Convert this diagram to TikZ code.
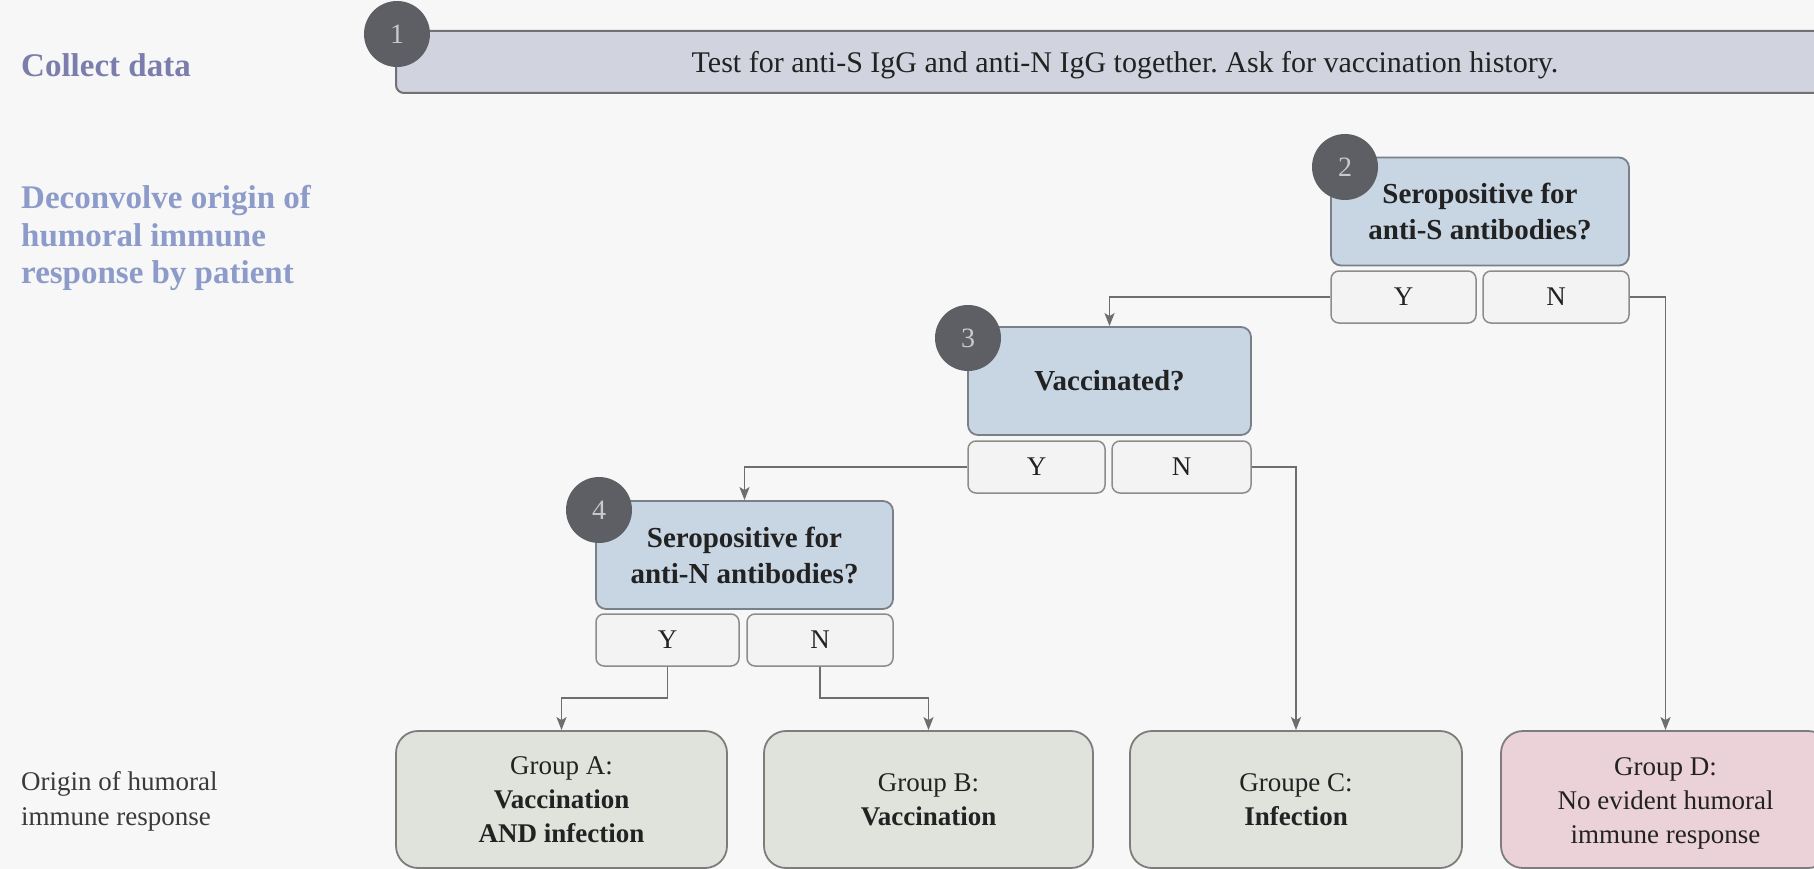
\documentclass[tikz,border=0pt]{standalone}
\usepackage{fontspec}
\setmainfont{Liberation Serif}
\usetikzlibrary{arrows.meta}
\definecolor{bg}{HTML}{F7F7F7}
\definecolor{lblA}{HTML}{7B7EAC}
\definecolor{lblB}{HTML}{8C9BC9}
\definecolor{lblC}{HTML}{3A3A3A}
\definecolor{topfill}{HTML}{D1D3DE}
\definecolor{topborder}{HTML}{707176}
\definecolor{qfill}{HTML}{C8D5E3}
\definecolor{qborder}{HTML}{7A808A}
\definecolor{ynfill}{HTML}{F3F3F3}
\definecolor{ynborder}{HTML}{8C8C8C}
\definecolor{gfill}{HTML}{DFE3DB}
\definecolor{gborder}{HTML}{7D7D7D}
\definecolor{dfill}{HTML}{EBD2D9}
\definecolor{numfill}{HTML}{5E5F64}
\definecolor{numtext}{HTML}{C9C9CC}
\definecolor{linec}{HTML}{6E6E6E}
\definecolor{txt}{HTML}{222222}
\frenchspacing
\begin{document}
\begin{tikzpicture}[x=1pt,y=-1pt,
  topbox/.style={draw=topborder, fill=topfill, rounded corners=8pt, line width=2pt, minimum width=1444pt, minimum height=62pt, inner sep=0pt},
  toptext/.style={text=txt, inner sep=0pt, font=\fontsize{30}{34}\selectfont},
  qbox/.style={draw=qborder, fill=qfill, rounded corners=10pt, line width=1.8pt, minimum height=108pt, inner sep=0pt, align=center, text=txt, font=\fontsize{29}{36}\selectfont\bfseries},
  yn/.style={draw=ynborder, fill=ynfill, rounded corners=8pt, line width=1.5pt, minimum height=52pt, inner sep=0pt, text=txt, font=\fontsize{27}{32}\selectfont},
  grp/.style={draw=gborder, fill=gfill, rounded corners=22pt, line width=1.8pt, minimum width=330pt, minimum height=137pt, inner sep=0pt, align=center, text=txt, font=\fontsize{27}{34}\selectfont},
  num/.style={circle, fill=numfill, minimum size=66pt, inner sep=0pt, text=numtext, font=\fontsize{28}{28}\selectfont},
  conn/.style={draw=linec, line width=1.8pt, -{Stealth[length=13pt,width=10pt,inset=3pt]}},
  side/.style={anchor=west, align=left, inner sep=0pt}
]
\useasboundingbox (0,0) rectangle (1814,869);
\fill[bg] (0,0) rectangle (1814,869);
\clip (0,0) rectangle (1814,869);

% left labels
\node[side, text=lblA, font=\fontsize{33}{38}\selectfont\bfseries] (l1) at (21,65) {Collect data};
\node[side, text=lblB, font=\fontsize{33}{37.5}\selectfont\bfseries] (l2) at (21,238) {Deconvolve origin of\\humoral immune\\response by patient};
\node[side, text=lblC, font=\fontsize{27}{35}\selectfont] (l3) at (21,801) {Origin of humoral\\immune response};

% step 1
\node[topbox] (b1) at (1118,62) {};
\node[toptext] (t1) at (1125,65) {Test for anti-S IgG and anti-N IgG together. Ask for vaccination history.};

% step 2
\node[qbox, minimum width=298pt] (b2) at (1480,211.5) {Seropositive for\\anti-S antibodies?};
\node[yn, minimum width=145pt] (y2) at (1403.5,297) {Y};
\node[yn, minimum width=146pt] (n2) at (1556,297) {N};

% step 3
\node[qbox, minimum width=283pt] (b3) at (1109.5,381) {Vaccinated?};
\node[yn, minimum width=137pt] (y3) at (1036.5,467) {Y};
\node[yn, minimum width=139pt] (n3) at (1181.5,467) {N};

% step 4
\node[qbox, minimum width=297pt] (b4) at (744.5,555) {Seropositive for\\anti-N antibodies?};
\node[yn, minimum width=143pt] (y4) at (667.5,640) {Y};
\node[yn, minimum width=146pt] (n4) at (820,640) {N};

% groups
\node[grp, minimum width=331pt] (gA) at (561.5,799.5) {Group A:\\\textbf{Vaccination}\\\textbf{AND infection}};
\node[grp, minimum width=329pt] (gB) at (928.5,799.5) {Group B:\\\textbf{Vaccination}};
\node[grp, minimum width=332pt] (gC) at (1296,799.5) {Groupe C:\\\textbf{Infection}};
\node[grp, fill=dfill, minimum width=329pt] (gD) at (1665.5,799.5) {};
\node[align=center, inner sep=0pt, text=txt, font=\fontsize{27}{34}\selectfont] (tD) at (1665.5,803) {Group D:\\No evident humoral\\immune response};

% numbers
\node[num] (c1) at (397,34) {1};
\node[num] (c2) at (1345,167) {2};
\node[num] (c3) at (968,338) {3};
\node[num] (c4) at (599,510) {4};

% connectors
\draw[conn] (y2.west) -| (b3.north);
\draw[conn] (n2.east) -| (gD.north);
\draw[conn] (y3.west) -| (b4.north);
\draw[conn] (n3.east) -| (gC.north);
\draw[conn] (y4.south) -- ++(0,31) -| (gA.north);
\draw[conn] (n4.south) -- ++(0,31) -| (gB.north);
\end{tikzpicture}
\end{document}
